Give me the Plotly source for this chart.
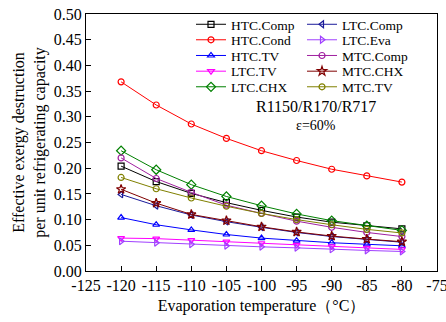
import plotly.graph_objects as go

temps = [-120, -115, -110, -105, -100, -95, -90, -85, -80]

htc_comp = [0.204, 0.174, 0.151, 0.133, 0.118, 0.105, 0.095, 0.088, 0.082]
htc_cond = [0.368, 0.323, 0.286, 0.258, 0.234, 0.215, 0.198, 0.185, 0.173]
htc_tv   = [0.104, 0.090, 0.080, 0.071, 0.064, 0.059, 0.055, 0.052, 0.049]
ltc_tv   = [0.064, 0.063, 0.060, 0.057, 0.054, 0.051, 0.048, 0.045, 0.042]
ltc_chx  = [0.234, 0.197, 0.168, 0.145, 0.127, 0.111, 0.098, 0.088, 0.079]
ltc_comp = [0.149, 0.127, 0.109, 0.096, 0.085, 0.075, 0.067, 0.061, 0.056]
ltc_eva  = [0.058, 0.055, 0.052, 0.049, 0.047, 0.045, 0.042, 0.040, 0.038]
mtc_comp = [0.220, 0.180, 0.153, 0.128, 0.112, 0.097, 0.085, 0.075, 0.067]
mtc_chx  = [0.159, 0.132, 0.110, 0.098, 0.086, 0.076, 0.068, 0.062, 0.057]
mtc_tv   = [0.182, 0.160, 0.142, 0.126, 0.112, 0.100, 0.090, 0.081, 0.074]

x_tickvals = [-125, -120, -115, -110, -105, -100, -95, -90, -85, -80, -75]
x_ticklabels = ["-125", "-120", "-115", "-110", "-105", "-100", "-95", "-90", "-85", "-80", "-75"]

series = [
    ("HTC.Comp", htc_comp, "#000000", "square-open", 6),
    ("HTC.Cond", htc_cond, "#FF0000", "circle-open", 6),
    ("HTC.TV", htc_tv, "#0000FF", "triangle-up-open", 6),
    ("LTC.TV", ltc_tv, "#FF00FF", "triangle-down-open", 6),
    ("LTC.CHX", ltc_chx, "#008000", "diamond-open", 7),
    ("LTC.Comp", ltc_comp, "#1A1A9A", "triangle-left-open", 6),
    ("LTC.Eva", ltc_eva, "#A040FF", "triangle-right-open", 6),
    ("MTC.Comp", mtc_comp, "#A020A0", "circle-open", 6),
    ("MTC.CHX", mtc_chx, "#800000", "star-open", 7),
    ("MTC.TV", mtc_tv, "#808000", "circle-open", 6),
]

FONT = "Liberation Serif, Times New Roman, serif"
W, H = 446, 322
ml, mr, mt, mb = 86, 9, 14, 51
pw, ph = W - ml - mr, H - mt - mb

row_px = [24.5, 40, 55.7, 71.4, 87]
col_px = [191, 302]

fig = go.Figure()
layout_legends = {}
for i, (name, vals, color, sym, msize) in enumerate(series):
    key = "legend" if i == 0 else f"legend{i+1}"
    fig.add_trace(go.Scatter(
        x=temps, y=vals, name=name, mode="lines+markers",
        line=dict(color=color, width=1),
        marker=dict(symbol=sym, size=msize, color=color, line=dict(color=color, width=1.2)),
        legend=key,
    ))
    col = i // 5
    row = i % 5
    layout_legends[key] = dict(
        x=(col_px[col] - ml) / pw,
        y=(H - mb - row_px[row]) / ph,
        xanchor="left", yanchor="middle",
        bgcolor="rgba(0,0,0,0)", borderwidth=0,
        font=dict(family=FONT, size=13.5, color="black"),
        itemwidth=30,
    )

fig.update_layout(
    width=W, height=H,
    margin=dict(l=ml, r=mr, t=mt, b=mb, autoexpand=False),
    paper_bgcolor="white", plot_bgcolor="white",
    font=dict(family=FONT, size=16, color="black"),
    showlegend=True,
    **layout_legends,
)

fig.update_xaxes(
    range=[-125, -75], tickmode="array", tickvals=x_tickvals, ticktext=x_ticklabels,
    ticks="inside", ticklen=5, tickcolor="black", ticklabeloverflow="allow",
    showline=True, linecolor="black", linewidth=1, mirror=True,
    showgrid=False, zeroline=False, automargin=False,
    tickfont=dict(family=FONT, size=16),
    title=dict(text="Evaporation temperature（°C）", font=dict(family=FONT, size=16), standoff=6),
)
fig.update_yaxes(
    range=[0, 0.5], dtick=0.05, tick0=0, tickformat=".2f",
    ticks="inside", ticklen=5, tickcolor="black", ticklabeloverflow="allow",
    showline=True, linecolor="black", linewidth=1, mirror=True,
    showgrid=False, zeroline=False, automargin=False,
    tickfont=dict(family=FONT, size=16),
    title=dict(text="Effective exergy destruction<br>per unit refrigerating capacity",
               font=dict(family=FONT, size=16), standoff=4),
)

fig.add_annotation(text="R1150/R170/R717", xref="paper", yref="paper",
                   x=(315.8 - ml) / pw, y=(H - mb - 106.7) / ph,
                   showarrow=False, font=dict(family=FONT, size=16, color="black"))
fig.add_annotation(text="ε=60%", xref="paper", yref="paper",
                   x=(316 - ml) / pw, y=(H - mb - 125) / ph,
                   showarrow=False, font=dict(family=FONT, size=14, color="black"))

fig.write_html(
    "out.html",
    config={"displayModeBar": False},
    post_script="document.body.style.margin='0';document.body.style.overflow='hidden';",
)
